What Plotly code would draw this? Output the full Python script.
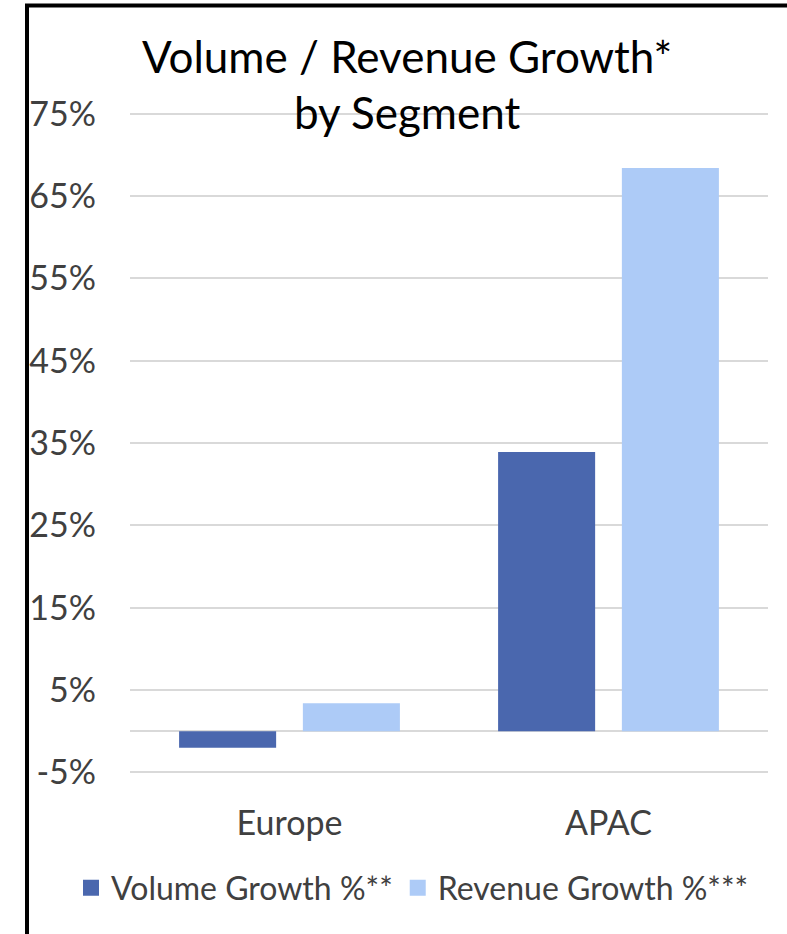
import plotly.graph_objects as go

categories = ["Europe", "APAC"]
volume_growth = [-2.0, 33.9]
revenue_growth = [3.4, 68.4]
series_names = ["Volume Growth %**", "Revenue Growth %***"]
title_lines = ["Volume / Revenue Growth*", "by Segment"]
y_tickvals = [-5, 5, 15, 25, 35, 45, 55, 65, 75]
y_ticktext = ["-5%", "5%", "15%", "25%", "35%", "45%", "55%", "65%", "75%"]

DARK = "#4A67AE"
LIGHT = "#ADCBF7"
FONT = "Lato, 'Liberation Sans', sans-serif"

W, H = 787, 934
L, R, T, B = 130, 19, 112, 160
pw, ph = W - L - R, H - T - B


def px_x(x):
    return (x - L) / pw


def px_y(y):
    return (H - B - y) / ph


fig = go.Figure()
fig.add_trace(go.Bar(x=categories, y=volume_growth, name=series_names[0],
                     marker=dict(color=DARK, line=dict(width=0)), showlegend=False))
fig.add_trace(go.Bar(x=categories, y=revenue_growth, name=series_names[1],
                     marker=dict(color=LIGHT, line=dict(width=0)), showlegend=False))
# legend entries with larger square swatches
for nm, col in zip(series_names, [DARK, LIGHT]):
    fig.add_trace(go.Scatter(x=[None], y=[None], mode="markers", name=nm,
                             marker=dict(symbol="square", size=16, color=col)))

annotations = []
for line, yc in zip(title_lines, [56, 112]):
    annotations.append(dict(text=line, xref="paper", yref="paper",
                            x=px_x(407), y=px_y(yc), xanchor="center", yanchor="middle",
                            showarrow=False,
                            font=dict(family=FONT, size=44, color="#000000")))

fig.update_layout(
    width=W, height=H,
    margin=dict(l=L, r=R, t=T, b=B, autoexpand=False),
    paper_bgcolor="white", plot_bgcolor="white",
    barmode="group", bargap=0.224, bargroupgap=0.216,
    font=dict(family=FONT, color="#404040"),
    annotations=annotations,
    showlegend=True,
    legend=dict(orientation="h", x=px_x(71), xanchor="left",
                y=px_y(888), yanchor="middle",
                font=dict(family=FONT, size=32, color="#404040"),
                bgcolor="rgba(0,0,0,0)"),
    xaxis=dict(showgrid=False, showline=False, ticks="",
               tickfont=dict(family=FONT, size=34, color="#404040"),
               ticklabelstandoff=26),
    yaxis=dict(range=[-5.2, 75.2], tickvals=y_tickvals, ticktext=y_ticktext,
               showgrid=True, gridcolor="#D9D9D9", gridwidth=2,
               zeroline=True, zerolinecolor="#D9D9D9", zerolinewidth=2,
               showline=False, ticks="",
               tickfont=dict(family=FONT, size=34, color="#404040"),
               ticklabelstandoff=33),
    shapes=[dict(type="rect", xref="paper", yref="paper",
                 x0=px_x(27), x1=px_x(805), y0=px_y(5.5), y1=px_y(955),
                 line=dict(color="black", width=4), fillcolor="rgba(0,0,0,0)")],
)

fig.write_html("out.html")
